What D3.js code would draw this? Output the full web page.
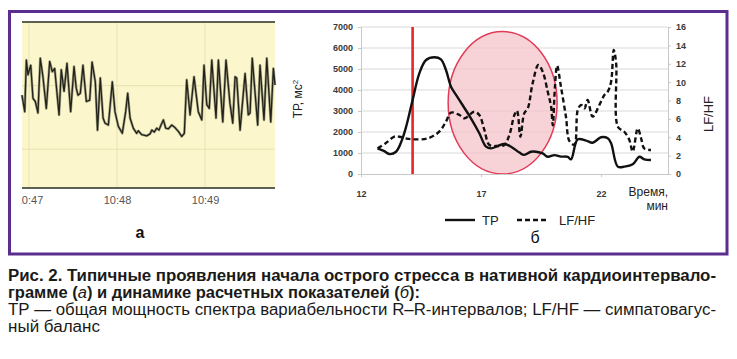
<!DOCTYPE html>
<html><head><meta charset="utf-8">
<script src="https://cdn.jsdelivr.net/npm/d3@7"></script>
<style>body{margin:0;background:#fff}svg{display:block}</style>
</head><body><svg id="c" width="737" height="359"></svg>
<script>
// ---- Panel а: native cardiointervalogram (time in s from 10:47:00, RR in ms) ----
const rrTime = [-4.8,-2.9,-1.8,-0.7,1.2,2.7,4.3,6.1,7.7,9.5,11.8,14.1,15.9,17.5,20.5,22.0,23.9,25.9,28.4,30.7,32.2,33.4,35.0,36.8,39.1,41.4,43.0,45.2,46.7,48.6,50.5,51.8,54.1,56.8,58.6,60.9,63.6,65.9,67.3,68.9,71.1,73.4,74.5,76.8,80.2,82.5,83.7,85.4,87.1,88.6,90.0,91.6,93.2,95.0,97.3,99.5,101.8,104.1,105.9,107.5,109.8,112.5,115.4,117.8,119.3,121.2,122.9,124.6,127.5,129.1,132.1,134.3,137.0,138.9,140.5,141.6,143.9,147.3,149.5,150.7,152.2,155.9,157.5,160.2,162.1,164.8,166.6,167.7];
const rrValue = [885,859,940,917,932,880,875,857,943,914,864,938,922,927,854,925,891,935,859,930,896,885,888,932,875,877,937,906,830,912,849,841,838,906,859,836,825,859,888,849,833,825,829,823,821,824,830,827,833,830,838,846,833,832,838,834,828,820,825,909,854,914,859,846,932,870,864,940,849,940,843,940,872,841,914,912,830,919,854,857,943,838,932,846,943,843,927,901];
const rrTickTimes = [0,60,120];
const rrTickLabels = ["10:47","10:48","10:49"];
const rrGrid = [800,900];

// ---- Panel б: TP and LF/HF over time (min) ----
const tpMinutes = [12.69,12.95,13.18,13.46,13.7,13.88,14.15,14.43,14.71,15.06,15.33,15.54,15.75,16.0,16.25,16.58,16.93,17.21,17.42,17.7,17.97,18.25,18.6,18.8,19.08,19.29,19.57,19.78,20.06,20.33,20.61,20.75,21.03,21.38,21.65,22.0,22.28,22.42,22.7,22.97,23.32,23.6,23.8,24.08];
const tpValues  = [1220,1100,950,1060,1600,2250,3520,4790,5430,5560,5460,4950,4160,3700,3250,2650,1940,1300,1220,1330,1430,1300,1020,910,1060,1060,980,820,900,830,820,700,1650,1590,1490,1750,1700,1460,350,350,460,820,700,670];
const lfhfMinutes = [12.69,13.0,13.39,13.6,13.9,14.22,14.78,15.26,15.54,15.75,16.1,16.31,16.72,16.93,17.14,17.35,17.7,17.97,18.18,18.39,18.5,18.64,18.8,18.95,19.15,19.39,19.57,19.78,19.92,19.99,20.08,20.17,20.33,20.54,20.68,20.89,21.03,21.17,21.31,21.44,21.65,21.93,22.14,22.28,22.42,22.53,22.63,22.7,22.97,23.18,23.32,23.53,23.67,23.8,24.08];
const lfhfValues  = [2.8,3.3,4.06,4.06,3.85,3.77,3.88,4.61,5.7,6.68,6.42,6.06,6.78,6.42,4.79,3.16,3.05,3.16,4.24,6.42,6.89,4.06,6.6,7.15,9.87,11.86,11.13,8.96,7.33,5.3,9.5,11.8,9.5,6.2,3.6,3.2,6.97,7.51,7.15,8.05,6.24,7.51,8.6,8.96,10.05,13.5,12.05,5.15,4.6,3.7,2.43,4.97,3.88,2.79,2.61];
const xTicks = [12,17,22];
const tpTicks = [0,1000,2000,3000,4000,5000,6000,7000];
const lfhfTicks = [0,2,4,6,8,10,12,14,16];
const stressOnsetMinute = 14.15;
const zoneCenterMinute = 17.9, zoneHalfWidthMinutes = 2.27;
const zoneCenterTP = 3390, zoneHalfHeightTP = 3390;

const captionLines = [
  {parts:[["Рис. 2. Типичные проявления начала острого стресса в нативной кардиоинтервало-",""]], bold:true, end:716},
  {parts:[["грамме (",""],["а","i"],[") и динамике расчетных показателей (",""],["б","i"],["):",""]], bold:true, end:420},
  {parts:[["ТР — общая мощность спектра вариабельности R–R-интервалов; LF/HF — симпатовагус-",""]], bold:false, end:716},
  {parts:[["ный баланс",""]], bold:false, end:100}
];

const svg = d3.select("#c");
const FONT = "'Liberation Sans', Arial, sans-serif";

// Frame
svg.append("rect").attr("x",9.5).attr("y",11.5).attr("width",717.5).attr("height",242.5)
  .attr("fill","none").attr("stroke","#5b2d8f").attr("stroke-width",3);

// ---------- Panel а ----------
const ax = d3.scaleLinear().domain([-4.77,167.7]).range([22,275]);
const ay = d3.scaleLinear().domain([739,1000]).range([188,22]);
const pa = svg.append("g");
pa.append("rect").attr("x",22).attr("y",22).attr("width",253).attr("height",166).attr("fill","#fbf6cb");
pa.selectAll("line.hg").data(rrGrid).join("line")
  .attr("x1",22).attr("x2",275).attr("y1",d=>ay(d)).attr("y2",d=>ay(d))
  .attr("stroke","#e9e2b4").attr("stroke-width",1);
pa.selectAll("line.vg").data(rrTickTimes).join("line")
  .attr("x1",d=>ax(d)).attr("x2",d=>ax(d)).attr("y1",22).attr("y2",188)
  .attr("stroke","#e9e2b4").attr("stroke-width",1);
pa.append("line").attr("x1",22).attr("x2",275).attr("y1",22).attr("y2",22).attr("stroke","#5c6152").attr("stroke-width",2);
pa.append("line").attr("x1",22).attr("x2",275).attr("y1",188).attr("y2",188).attr("stroke","#5c6152").attr("stroke-width",2);
const rrPts = rrTime.map((t,i)=>[t,rrValue[i]]);
const rrLine = d3.line().x(d=>ax(d[0])).y(d=>ay(d[1]));
pa.append("path").datum(rrPts).attr("d",rrLine).attr("fill","none").attr("stroke","#a3a386").attr("stroke-width",2.6).attr("stroke-linejoin","round");
pa.append("path").datum(rrPts).attr("d",rrLine).attr("fill","none").attr("stroke","#22221a").attr("stroke-width",1.3).attr("stroke-linejoin","round");
svg.append("clipPath").attr("id","clipA").append("rect").attr("x",21).attr("y",188).attr("width",260).attr("height",30);
const axWrap = pa.append("g").attr("clip-path","url(#clipA)");
const axA = axWrap.append("g").attr("transform","translate(0,188)")
  .call(d3.axisBottom(ax).tickValues(rrTickTimes).tickFormat((d,i)=>rrTickLabels[i]).tickSize(0).tickPadding(8));
axA.select(".domain").remove();
axA.selectAll("text").attr("font-family",FONT).attr("font-size",11).attr("fill","#555");
svg.append("text").attr("x",140).attr("y",238).attr("text-anchor","middle").attr("font-family",FONT)
  .attr("font-size",16).attr("font-weight","bold").attr("fill","#111").text("а");

// ---------- Panel б ----------
const x = d3.scaleLinear().domain([12,24.79]).range([361,668]);
const yL = d3.scaleLinear().domain([0,7000]).range([174,27]);
const yR = d3.scaleLinear().domain([0,16]).range([174,27]);
const pb = svg.append("g");
pb.selectAll("line.g").data(tpTicks.slice(1)).join("line")
  .attr("x1",361).attr("x2",668).attr("y1",d=>yL(d)).attr("y2",d=>yL(d))
  .attr("stroke","#d9d9d9").attr("stroke-width",1);
// highlight zone
pb.append("ellipse").attr("cx",x(zoneCenterMinute)).attr("cy",yL(zoneCenterTP))
  .attr("rx",x(zoneCenterMinute+zoneHalfWidthMinutes)-x(zoneCenterMinute))
  .attr("ry",yL(0)-yL(zoneHalfHeightTP))
  .attr("fill","#f4c4cb").attr("fill-opacity",0.75).attr("stroke","#e23b57").attr("stroke-width",1.5);
// axes
const fmt = d3.format("d");
function styleAxis(g){
  g.select(".domain").attr("stroke","#c8c8c8");
  g.selectAll(".tick line").attr("stroke","#c8c8c8");
  g.selectAll("text").attr("font-family",FONT).attr("font-size",9).attr("font-weight","bold").attr("fill","#3a3a3a");
}
pb.append("g").attr("transform","translate(361,0)")
  .call(d3.axisLeft(yL).tickValues(tpTicks).tickFormat(fmt).tickSize(3).tickPadding(5).tickSizeOuter(0)).call(styleAxis);
pb.append("g").attr("transform","translate(668,0)")
  .call(d3.axisRight(yR).tickValues(lfhfTicks).tickFormat(fmt).tickSize(3).tickPadding(5).tickSizeOuter(0)).call(styleAxis);
pb.append("g").attr("transform","translate(0,174)")
  .call(d3.axisBottom(x).tickValues(xTicks).tickFormat(fmt).tickSize(3).tickPadding(14).tickSizeOuter(0)).call(styleAxis);
// onset line
pb.append("line").attr("x1",x(stressOnsetMinute)).attr("x2",x(stressOnsetMinute)).attr("y1",yL(7000)).attr("y2",yL(0))
  .attr("stroke","#e8262a").attr("stroke-width",2.6);
// series
const tpPts = tpMinutes.map((m,i)=>[m,tpValues[i]]);
const lfPts = lfhfMinutes.map((m,i)=>[m,lfhfValues[i]]);
pb.append("path").datum(lfPts)
  .attr("d",d3.line().x(d=>x(d[0])).y(d=>yR(d[1])).curve(d3.curveCatmullRom.alpha(0.5)))
  .attr("fill","none").attr("stroke","#111").attr("stroke-width",2.4).attr("stroke-dasharray","5,3");
pb.append("path").datum(tpPts)
  .attr("d",d3.line().x(d=>x(d[0])).y(d=>yL(d[1])).curve(d3.curveCatmullRom.alpha(0.5)))
  .attr("fill","none").attr("stroke","#111").attr("stroke-width",2.4);
// labels
svg.append("text").attr("transform","translate(302,99) rotate(-90)").attr("text-anchor","middle")
  .attr("font-family",FONT).attr("font-size",12).attr("fill","#222")
  .call(t=>{t.append("tspan").text("ТР, мс");t.append("tspan").attr("dy",-4).attr("font-size",8).text("2");});
svg.append("text").attr("transform","translate(713,114) rotate(-90)").attr("text-anchor","middle")
  .attr("font-family",FONT).attr("font-size",13).attr("fill","#222").text("LF/HF");
svg.append("text").attr("x",668).attr("y",196).attr("text-anchor","end").attr("font-family",FONT).attr("font-size",12).attr("fill","#222").text("Время,");
svg.append("text").attr("x",668).attr("y",210).attr("text-anchor","end").attr("font-family",FONT).attr("font-size",12).attr("fill","#222").text("мин");
// legend
const lg = svg.append("g");
lg.append("line").attr("x1",445).attr("x2",475).attr("y1",220).attr("y2",220).attr("stroke","#111").attr("stroke-width",2.4);
lg.append("text").attr("x",482).attr("y",225).attr("font-family",FONT).attr("font-size",13).attr("fill","#222").text("ТР");
lg.append("line").attr("x1",517).attr("x2",549).attr("y1",220).attr("y2",220).attr("stroke","#111").attr("stroke-width",2.4).attr("stroke-dasharray","5,3");
lg.append("text").attr("x",559).attr("y",225).attr("font-family",FONT).attr("font-size",13).attr("fill","#222").text("LF/HF");
svg.append("text").attr("x",535).attr("y",243).attr("text-anchor","middle").attr("font-family",FONT)
  .attr("font-size",16).attr("fill","#111").text("б");

// ---------- Caption ----------
const capY = [281,298,315,332];
captionLines.forEach((ln,i)=>{
  const t = svg.append("text").attr("x",8).attr("y",capY[i])
    .attr("font-family","'Liberation Sans Narrow', 'Liberation Sans', Arial, sans-serif")
    .attr("font-size",16).attr("font-weight",ln.bold?"bold":"normal").attr("fill","#1a1a1a")
    .attr("textLength",ln.end-8).attr("lengthAdjust","spacingAndGlyphs");
  ln.parts.forEach(p=>{
    const s = t.append("tspan").text(p[0]);
    if(p[1]==="i") s.attr("font-style","italic").attr("font-weight","normal");
  });
});
</script></body></html>
